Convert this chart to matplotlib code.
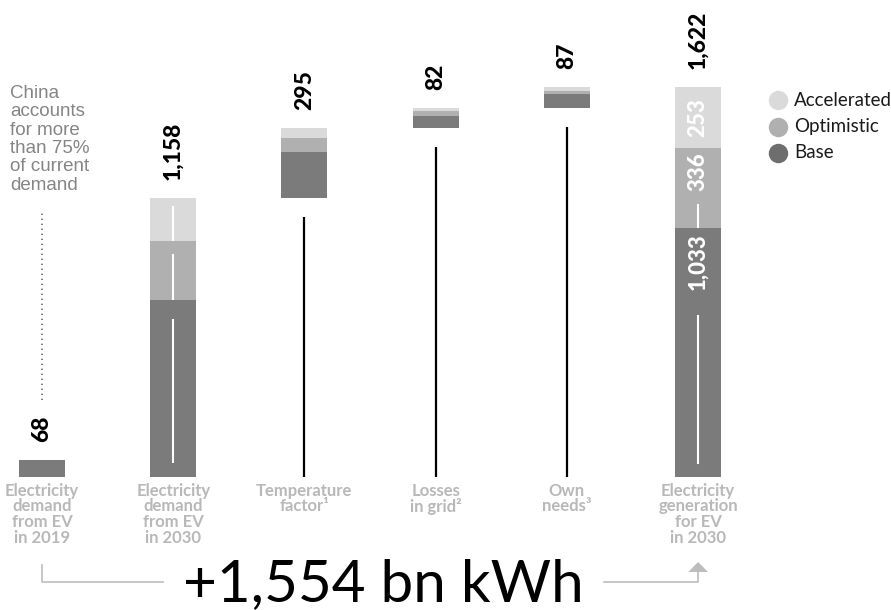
import numpy as np
import matplotlib.pyplot as plt
from matplotlib.patches import Polygon

plt.rcParams['font.family'] = ['Lato', 'DejaVu Sans']

# bn kWh, split by scenario (base / optimistic / accelerated)
steps = ['Electricity\ndemand\nfrom EV\nin 2019',
         'Electricity\ndemand\nfrom EV\nin 2030',
         'Temperature\nfactor\u00b9',
         'Losses\nin grid\u00b2',
         'Own\nneeds\u00b3',
         'Electricity\ngeneration\nfor EV\nin 2030']
base = [68, 735, 193, 49, 56, 1033]
optimistic = [0, 245, 57, 19, 15, 336]
accelerated = [0, 178, 45, 14, 16, 253]
totals = [68, 1158, 295, 82, 87, 1622]
growth_label = '+1,554 bn kWh'

scenarios = ['Accelerated', 'Optimistic', 'Base']
colors = {'Base': '#7b7b7b', 'Optimistic': '#b0b0b0', 'Accelerated': '#dadada'}

W, H = 891, 610
fig = plt.figure(figsize=(W / 100, H / 100), dpi=100)
ax = fig.add_axes([0, 0, 1, 1])
ax.set_xlim(-0.32, 6.47)
ax.set_ylim(-555, 1984)
ax.axis('off')

px = (1984 + 555) / H  # data units per pixel (vertical)
bw = 0.35

# floating start of each bar
starts = [0, 0]
running = totals[1]
for t in totals[2:5]:
    starts.append(running)
    running += t
starts.append(0)

x = np.arange(len(steps))
for i in x:
    b0 = starts[i]
    segs = [(base[i], colors['Base']), (optimistic[i], colors['Optimistic']),
            (accelerated[i], colors['Accelerated'])]
    bottom = b0
    for v, c in segs:
        if v > 0:
            ax.bar(i, v, bw, bottom=bottom, color=c, linewidth=0)
        bottom += v
    top = b0 + totals[i]
    ax.annotate(f'{totals[i]:,}', (i, top), xytext=(0, 13), textcoords='offset points',
                rotation=90, ha='center', va='bottom', fontsize=16.5,
                fontweight='black', color='black')
    ax.text(i, -6 * px, steps[i], ha='center', va='top', fontsize=12,
            fontweight='bold', color='#b8b8b8', linespacing=0.98)

# connector lines under the floating bars
for i in (2, 3, 4):
    ax.plot([i, i], [0, starts[i] - 19 * px], color='black', lw=1.6,
            solid_capstyle='butt')

# white guide lines inside the 2030 demand bar
b, o, a = base[1], optimistic[1], accelerated[1]
for y0, y1 in [(14 * px, b - 19 * px), (b, b + o - 13 * px), (b + o, b + o + a - 8 * px)]:
    ax.plot([1, 1], [y0, y1], color='white', lw=1.5, solid_capstyle='butt')

# scenario values inside the generation bar
b, o, a = base[5], optimistic[5], accelerated[5]
ax.text(5, b + o + a / 2, f'{a:,}', rotation=90, ha='center', va='center',
        fontsize=16, fontweight='black', color='white')
ax.text(5, b + o - 5 * px, f'{o:,}', rotation=90, ha='center', va='top',
        fontsize=16, fontweight='black', color='white')
ax.plot([5, 5], [b + 1 * px, b + o - 57 * px], color='white', lw=1.5)
ax.text(5, b - 5 * px, f'{b:,}', rotation=90, ha='center', va='top',
        fontsize=16, fontweight='black', color='white')
ax.plot([5, 5], [14 * px, b - 88 * px], color='white', lw=1.5)

# note on current demand
ax.text(-0.245, 1984 - 85 * px,
        'China\naccounts\nfor more\nthan 75%\nof current\ndemand',
        ha='left', va='top', fontsize=13.5, color='#858585', linespacing=1.1,
        family='Liberation Sans')
ax.plot([0, 0], [(476.7 - 400) * px, (476.7 - 212) * px], color='#666666',
        lw=1.2, linestyle=(0, (0.8, 2.2)))

# legend
for k, name in enumerate(scenarios):
    yy = 1 - (100 + 26.5 * k) / H
    fig.add_artist(plt.Line2D([778 / W], [yy], marker='o', markersize=14,
                              markeredgewidth=0, linestyle='none',
                              color=colors[name] if name != 'Base' else '#6e6e6e',
                              transform=fig.transFigure))
    fig.text(794 / W, yy, name, ha='left', va='center', fontsize=13.5, color='#1a1a1a')

# growth bracket with arrow
gray = '#bdbdbd'
y_br = -(582 - 476.7) * px
ax.plot([0, 0, 0.925], [-(565 - 476.7) * px, y_br, y_br], color=gray, lw=1.2)
ax.plot([4.28, 5, 5], [y_br, y_br, -(571 - 476.7) * px], color=gray, lw=1.2)
ax.add_patch(Polygon([[4.925, -(572 - 476.7) * px], [5.075, -(572 - 476.7) * px],
                      [5, -(562 - 476.7) * px]], closed=True, color=gray, lw=0))
ax.text(2.6, -(601 - 476.7) * px, growth_label, ha='center', va='baseline',
        fontsize=42, color='black')

fig.savefig('out.png', dpi=100)
